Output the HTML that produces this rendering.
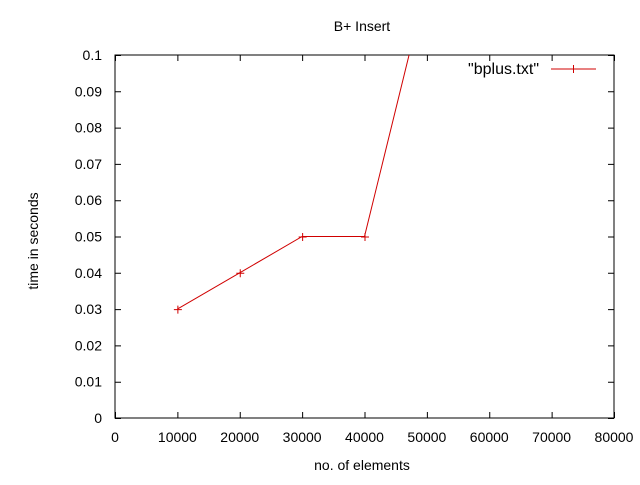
<!DOCTYPE html>
<html><head><meta charset="utf-8"><style>
html,body{margin:0;padding:0;background:#fff;}
svg text{font-family:"Liberation Sans",sans-serif;font-size:14px;fill:#000;}
</style></head><body>
<svg width="640" height="480" viewBox="0 0 640 480" xmlns="http://www.w3.org/2000/svg">
<defs><clipPath id="pc"><rect x="115" y="55" width="499" height="363"/></clipPath></defs>
<rect width="640" height="480" fill="#fff"/>
<g id="axes"></g>
<rect x="115" y="55" width="499" height="363" fill="none" stroke="#000" stroke-width="1"/>
<text x="362" y="31" text-anchor="middle">B+ Insert</text>
<text x="362" y="470" text-anchor="middle">no. of elements</text>
<text transform="translate(38,241) rotate(-90)" text-anchor="middle">time in seconds</text>
<g clip-path="url(#pc)" id="series"></g>
<g>
<text x="539" y="74" text-anchor="end" style="font-size:16px">"bplus.txt"</text>
<line x1="551" y1="69" x2="596" y2="69" stroke="#d00000"/>
<path d="M569.5 69h8M573.5 65v8" stroke="#d00000"/>
</g>
</svg>
<script>
const xTicks=[0,10000,20000,30000,40000,50000,60000,70000,80000];
const yTicks=[0,0.01,0.02,0.03,0.04,0.05,0.06,0.07,0.08,0.09,0.1];
const yTickLabels=["0","0.01","0.02","0.03","0.04","0.05","0.06","0.07","0.08","0.09","0.1"];
const xValues=[10000,20000,30000,40000,50000];
const yValues=[0.03,0.04,0.05,0.05,0.12];
const X0=115,X1=614,Y0=418,Y1=55;
const sx=v=>X0+(v-0)/(80000)*(X1-X0);
const sy=v=>Y0-(v/0.1)*(Y0-Y1);
const NS="http://www.w3.org/2000/svg";
const axes=document.getElementById('axes');
function mk(tag,attrs,parent){const e=document.createElementNS(NS,tag);for(const k in attrs)e.setAttribute(k,attrs[k]);parent.appendChild(e);return e;}
xTicks.forEach((v,i)=>{
  const x=sx(v)+0.5;
  const t=mk('path',{d:`M${x} ${Y0}v-6M${x} ${Y1}v6`,stroke:'#000'},axes);
  
  
  const l=mk('text',{x:sx(v),y:Y0+24,'text-anchor':'middle'},axes);
  l.textContent=String(v);
  
  
});
yTicks.forEach((v,i)=>{
  const y=sy(v)+0.5;
  const t=mk('path',{d:`M${X0} ${y}h6M${X1} ${y}h-6`,stroke:'#000'},axes);
  
  
  const l=mk('text',{x:X0-13,y:sy(v)+5,'text-anchor':'end'},axes);
  l.textContent=yTickLabels[i];
  
  
});
const g=document.getElementById('series');
const pts=xValues.map((x,i)=>sx(x)+','+sy(yValues[i])).join(' ');
const pl=mk('polyline',{points:pts,fill:'none',stroke:'#d00000','stroke-width':1},g);


xValues.forEach((x,i)=>{
  const cx=sx(x)+0.5,cy=sy(yValues[i])+0.5;
  const m=mk('path',{d:`M${cx-4} ${cy}h8M${cx} ${cy-4}v8`,stroke:'#d00000'},g);
  
  
});
</script>
</body></html>
